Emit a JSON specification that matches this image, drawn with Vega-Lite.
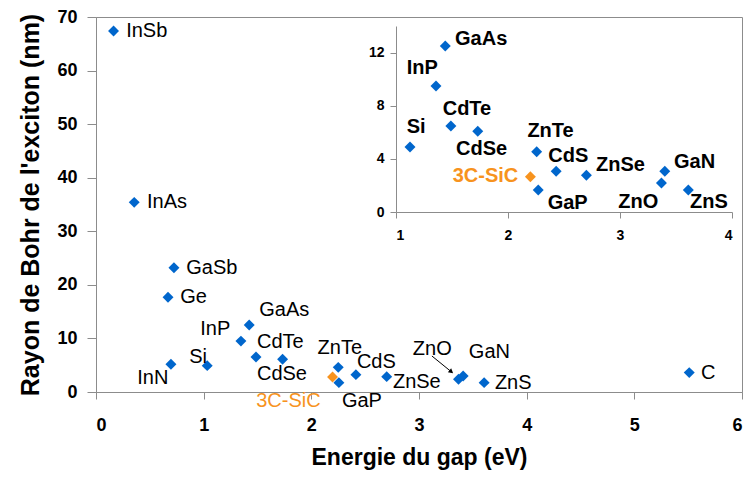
{
  "$schema": "https://vega.github.io/schema/vega-lite/v6.json",
  "width": 646,
  "height": 375,
  "autosize": "none",
  "padding": {"left": 96, "top": 17, "right": 8, "bottom": 90},
  "background": "white",
  "config": {
    "font": "Liberation Sans",
    "view": {"stroke": "#8c8c8c", "strokeWidth": 1},
    "axis": {"grid": false, "domainColor": "#8c8c8c", "tickColor": "#8c8c8c", "labelColor": "#000000", "titleColor": "#000000", "labelFontWeight": "bold", "titleFontWeight": "bold", "labelFont": "Liberation Sans", "titleFont": "Liberation Sans"}
  },
  "datasets": {
    "main": [
      {"name": "InSb", "e": 0.163, "r": 67.4, "lx": 0.28, "ly": 67.4},
      {"name": "InAs", "e": 0.355, "r": 35.4, "lx": 0.474, "ly": 35.4},
      {"name": "GaSb", "e": 0.724, "r": 23.2, "lx": 0.838, "ly": 23.2},
      {"name": "Ge", "e": 0.669, "r": 17.7, "lx": 0.783, "ly": 17.7},
      {"name": "InN", "e": 0.696, "r": 5.17, "lx": 0.383, "ly": 2.55},
      {"name": "Si", "e": 1.033, "r": 4.92, "lx": 0.866, "ly": 6.47},
      {"name": "InP", "e": 1.346, "r": 9.5, "lx": 0.968, "ly": 11.7},
      {"name": "GaAs", "e": 1.423, "r": 12.5, "lx": 1.516, "ly": 15.4},
      {"name": "CdTe", "e": 1.486, "r": 6.53, "lx": 1.495, "ly": 9.3},
      {"name": "CdSe", "e": 1.733, "r": 6.1, "lx": 1.495, "ly": 3.3},
      {"name": "ZnTe", "e": 2.25, "r": 4.6, "lx": 2.058, "ly": 8.15},
      {"name": "3C-SiC", "e": 2.197, "r": 2.8, "lx": 1.488, "ly": -1.68},
      {"name": "GaP", "e": 2.256, "r": 1.75, "lx": 2.284, "ly": -1.68},
      {"name": "CdS", "e": 2.414, "r": 3.24, "lx": 2.423, "ly": 5.54},
      {"name": "ZnSe", "e": 2.7, "r": 2.87, "lx": 2.758, "ly": 1.81},
      {"name": "ZnO", "e": 3.367, "r": 2.37, "lx": 2.943, "ly": 7.96},
      {"name": "GaN", "e": 3.41, "r": 2.98, "lx": 3.463, "ly": 7.4},
      {"name": "ZnS", "e": 3.605, "r": 1.75, "lx": 3.705, "ly": 1.75},
      {"name": "C", "e": 5.51, "r": 3.62, "lx": 5.62, "ly": 3.62}
    ],
    "inset": [
      {"name": "Si", "e": 1.125, "r": 4.9, "lx": 1.095, "ly": 6.43},
      {"name": "InP", "e": 1.357, "r": 9.49, "lx": 1.095, "ly": 10.82},
      {"name": "GaAs", "e": 1.44, "r": 12.5, "lx": 1.527, "ly": 13.0},
      {"name": "CdTe", "e": 1.49, "r": 6.48, "lx": 1.417, "ly": 7.73},
      {"name": "CdSe", "e": 1.73, "r": 6.08, "lx": 1.536, "ly": 4.75},
      {"name": "ZnTe", "e": 2.256, "r": 4.54, "lx": 2.173, "ly": 6.13},
      {"name": "3C-SiC", "e": 2.2, "r": 2.66, "lx": 1.506, "ly": 2.74},
      {"name": "GaP", "e": 2.27, "r": 1.66, "lx": 2.354, "ly": 0.7},
      {"name": "CdS", "e": 2.43, "r": 3.06, "lx": 2.36, "ly": 4.22},
      {"name": "ZnSe", "e": 2.7, "r": 2.76, "lx": 2.786, "ly": 3.57},
      {"name": "ZnO", "e": 3.37, "r": 2.18, "lx": 2.985, "ly": 0.78},
      {"name": "GaN", "e": 3.4, "r": 3.06, "lx": 3.482, "ly": 3.79},
      {"name": "ZnS", "e": 3.61, "r": 1.66, "lx": 3.625, "ly": 0.78}
    ],
    "arrow": [
      {"x": 3.12, "y": 6.72, "x2": 3.3, "y2": 3.78}
    ]
  },
  "layer": [
    {
      "layer": [
        {
          "data": {"name": "main"},
          "mark": {"type": "point", "shape": "diamond", "filled": true, "size": 120, "opacity": 1},
          "encoding": {
            "x": {"field": "e", "type": "quantitative", "title": "Energie du gap (eV)",
                  "scale": {"domain": [0, 6], "nice": false, "zero": false},
                  "axis": {"values": [0, 1, 2, 3, 4, 5, 6], "format": "d", "tickSize": 7, "labelPadding": 17, "labelFontSize": 18, "titleFontSize": 23, "titlePadding": 12}},
            "y": {"field": "r", "type": "quantitative", "title": "Rayon de Bohr de l'exciton (nm)",
                  "scale": {"domain": [0, 70], "nice": false, "zero": false},
                  "axis": {"values": [0, 10, 20, 30, 40, 50, 60, 70], "format": "d", "tickSize": 9, "labelPadding": 10, "labelFontSize": 18, "titleFontSize": 25, "titlePadding": 13}},
            "color": {"condition": {"test": "datum.name === '3C-SiC'", "value": "#f7931e"}, "value": "#0066cc"}
          }
        },
        {
          "data": {"name": "main"},
          "mark": {"type": "text", "align": "left", "baseline": "middle", "fontSize": 20, "font": "Liberation Sans"},
          "encoding": {
            "x": {"field": "lx", "type": "quantitative", "title": "Energie du gap (eV)"},
            "y": {"field": "ly", "type": "quantitative", "title": "Rayon de Bohr de l'exciton (nm)"},
            "text": {"field": "name"},
            "color": {"condition": {"test": "datum.name === '3C-SiC'", "value": "#f7931e"}, "value": "#000000"}
          }
        },
        {
          "data": {"name": "arrow"},
          "mark": {"type": "rule", "color": "#000000", "strokeWidth": 1},
          "encoding": {
            "x": {"field": "x", "type": "quantitative", "title": "Energie du gap (eV)"},
            "y": {"field": "y", "type": "quantitative", "title": "Rayon de Bohr de l'exciton (nm)"},
            "x2": {"field": "x2"},
            "y2": {"field": "y2"}
          }
        },
        {
          "data": {"name": "arrow"},
          "mark": {"type": "point", "shape": "triangle-up", "filled": true, "size": 28, "color": "#000000", "opacity": 1, "angle": 129},
          "encoding": {
            "x": {"field": "x2", "type": "quantitative", "title": "Energie du gap (eV)"},
            "y": {"field": "y2", "type": "quantitative", "title": "Rayon de Bohr de l'exciton (nm)"}
          }
        }
      ]
    },
    {
      "layer": [
        {
          "data": {"name": "inset"},
          "mark": {"type": "point", "shape": "diamond", "filled": true, "size": 120, "opacity": 1},
          "encoding": {
            "x": {"field": "e", "type": "quantitative", "title": null,
                  "scale": {"domain": [1, 4], "nice": false, "zero": false, "range": [300, 636]},
                  "axis": {"orient": "bottom", "offset": -180, "values": [1, 2, 3, 4], "format": "d", "tickSize": 6, "labelPadding": 10, "labelFontSize": 14, "title": null}},
            "y": {"field": "r", "type": "quantitative", "title": null,
                  "scale": {"domain": [0, 14], "nice": false, "zero": false, "range": [195, 9]},
                  "axis": {"orient": "left", "offset": -300, "values": [0, 4, 8, 12], "format": "d", "tickSize": 6, "labelPadding": 6, "labelFontSize": 14, "title": null}},
            "color": {"condition": {"test": "datum.name === '3C-SiC'", "value": "#f7931e"}, "value": "#0066cc"}
          }
        },
        {
          "data": {"name": "inset"},
          "mark": {"type": "text", "align": "left", "baseline": "middle", "fontSize": 20, "fontWeight": "bold", "font": "Liberation Sans"},
          "encoding": {
            "x": {"field": "lx", "type": "quantitative", "title": null},
            "y": {"field": "ly", "type": "quantitative", "title": null},
            "text": {"field": "name"},
            "color": {"condition": {"test": "datum.name === '3C-SiC'", "value": "#f7931e"}, "value": "#000000"}
          }
        }
      ]
    }
  ],
  "resolve": {"scale": {"x": "independent", "y": "independent"}, "axis": {"x": "independent", "y": "independent"}}
}
